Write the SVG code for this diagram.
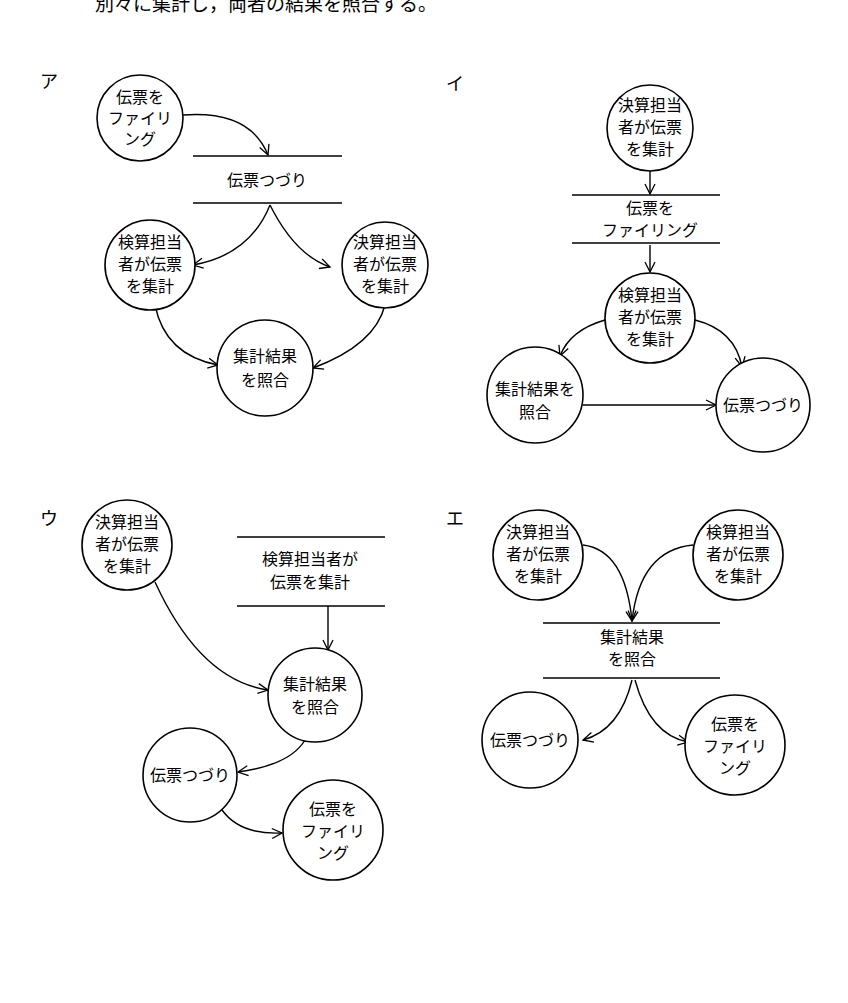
<svg xmlns="http://www.w3.org/2000/svg" width="848" height="1003" viewBox="0 0 848 1003">
<defs>
<marker id="ah" viewBox="0 0 12 12" refX="11" refY="6" markerWidth="12" markerHeight="12" markerUnits="userSpaceOnUse" orient="auto">
<path d="M1,1 L11,6 L1,11" fill="none" stroke="#000" stroke-width="1.3"/>
</marker>
<style>
circle{fill:#fff;stroke:#000;stroke-width:1.6}
.s{stroke:#000;stroke-width:1.6}
.c{fill:none;stroke:#000;stroke-width:1.4;marker-end:url(#ah)}
text{font-family:"Noto Sans CJK JP","Noto Sans",sans-serif;font-size:16px;text-anchor:middle;fill:#000}
.lb{font-size:18px;text-anchor:start}
</style>
</defs>
<rect width="848" height="1003" fill="#fff"/>
<text x="95" y="11" class="lb" style="font-size:19px">別々に集計し，両者の結果を照合する。</text>
<text x="40" y="88" class="lb">ア</text>
<text x="446" y="90" class="lb">イ</text>
<text x="40" y="525" class="lb">ウ</text>
<text x="446" y="525" class="lb">エ</text>
<g id="connectors">
<path class="c" d="M183,115 Q250,110 268,155"/>
<path class="c" d="M270,205 Q250,255 193,265"/>
<path class="c" d="M270,205 Q295,255 330,267"/>
<path class="c" d="M155,305 Q165,355 218,365"/>
<path class="c" d="M385,305 Q375,345 313,368"/>
<path class="c" d="M650,171 L650,194"/>
<path class="c" d="M650,245 L650,272"/>
<path class="c" d="M605,320 Q570,330 560,356"/>
<path class="c" d="M695,320 Q735,330 742,367"/>
<path class="c" d="M583,405 L716,405"/>
<path class="c" d="M155,582 Q200,680 268,690"/>
<path class="c" d="M328,606 L328,650"/>
<path class="c" d="M305,740 Q290,765 238,772"/>
<path class="c" d="M222,810 Q240,835 282,833"/>
<path class="c" d="M583,545 Q625,550 632,621"/>
<path class="c" d="M693,545 Q640,550 632,621"/>
<path class="c" d="M632,680 Q620,730 583,740"/>
<path class="c" d="M635,680 Q650,735 688,742"/>
</g>
<g id="a-file"><circle cx="140" cy="118" r="43"/><text x="140" y="103">伝票を</text><text x="140" y="124">ファイリ</text><text x="140" y="145">ング</text></g>
<g id="a-store"><line class="s" x1="193" y1="156" x2="342" y2="156"/><line class="s" x1="193" y1="203" x2="342" y2="203"/><text x="267" y="186">伝票つづり</text></g>
<g id="a-ken"><circle cx="150" cy="265" r="45"/><text x="150" y="248">検算担当</text><text x="150" y="270">者が伝票</text><text x="150" y="292">を集計</text></g>
<g id="a-kes"><circle cx="385" cy="265" r="43"/><text x="385" y="248">決算担当</text><text x="385" y="270">者が伝票</text><text x="385" y="292">を集計</text></g>
<g id="a-sho"><circle cx="265" cy="368" r="48"/><text x="265" y="362">集計結果</text><text x="265" y="386">を照合</text></g>
<g id="i-kes"><circle cx="650" cy="128" r="43"/><text x="650" y="111">決算担当</text><text x="650" y="133">者が伝票</text><text x="650" y="155">を集計</text></g>
<g id="i-store"><line class="s" x1="572" y1="195" x2="720" y2="195"/><line class="s" x1="572" y1="243" x2="720" y2="243"/><text x="650" y="214">伝票を</text><text x="650" y="236">ファイリング</text></g>
<g id="i-ken"><circle cx="650" cy="318" r="45"/><text x="650" y="301">検算担当</text><text x="650" y="323">者が伝票</text><text x="650" y="345">を集計</text></g>
<g id="i-sho"><circle cx="535" cy="395" r="48"/><text x="535" y="395">集計結果を</text><text x="535" y="418">照合</text></g>
<g id="i-tsu"><circle cx="763" cy="405" r="47"/><text x="763" y="411">伝票つづり</text></g>
<g id="u-kes"><circle cx="127" cy="545" r="45"/><text x="127" y="528">決算担当</text><text x="127" y="550">者が伝票</text><text x="127" y="572">を集計</text></g>
<g id="u-store"><line class="s" x1="237" y1="537" x2="385" y2="537"/><line class="s" x1="237" y1="606" x2="385" y2="606"/><text x="310" y="565">検算担当者が</text><text x="310" y="588">伝票を集計</text></g>
<g id="u-sho"><circle cx="315" cy="695" r="47"/><text x="315" y="690">集計結果</text><text x="315" y="713">を照合</text></g>
<g id="u-tsu"><circle cx="190" cy="775" r="47"/><text x="190" y="781">伝票つづり</text></g>
<g id="u-file"><circle cx="333" cy="830" r="50"/><text x="333" y="815">伝票を</text><text x="333" y="837">ファイリ</text><text x="333" y="859">ング</text></g>
<g id="e-kes"><circle cx="538" cy="555" r="45"/><text x="538" y="538">決算担当</text><text x="538" y="560">者が伝票</text><text x="538" y="582">を集計</text></g>
<g id="e-ken"><circle cx="738" cy="555" r="45"/><text x="738" y="538">検算担当</text><text x="738" y="560">者が伝票</text><text x="738" y="582">を集計</text></g>
<g id="e-store"><line class="s" x1="543" y1="623" x2="720" y2="623"/><line class="s" x1="543" y1="678" x2="720" y2="678"/><text x="632" y="643">集計結果</text><text x="632" y="665">を照合</text></g>
<g id="e-tsu"><circle cx="530" cy="740" r="48"/><text x="530" y="746">伝票つづり</text></g>
<g id="e-file"><circle cx="735" cy="745" r="50"/><text x="735" y="730">伝票を</text><text x="735" y="752">ファイリ</text><text x="735" y="774">ング</text></g>
</svg>
